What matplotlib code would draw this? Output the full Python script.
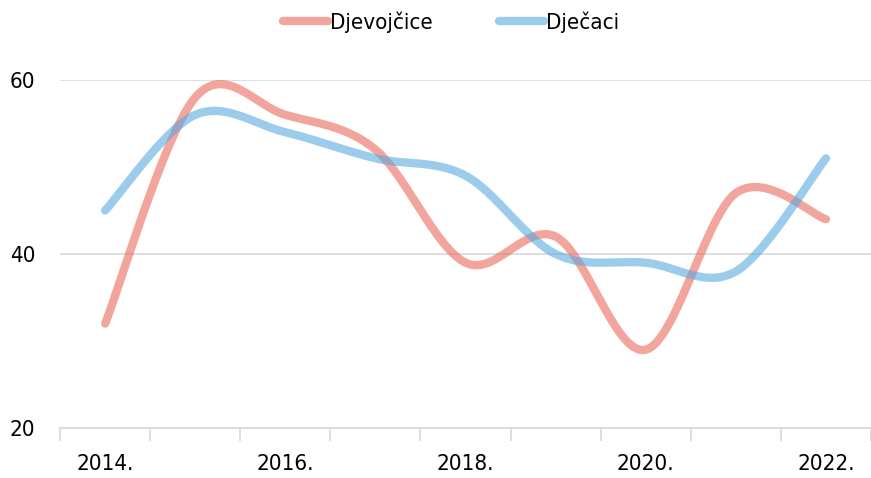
import numpy as np
import matplotlib
matplotlib.use("Agg")
import matplotlib.pyplot as plt

plt.rcParams['font.family'] = ['DejaVu Sans']
plt.rcParams['font.stretch'] = 'condensed'

godine = ['2014.', '2015.', '2016.', '2017.', '2018.', '2019.', '2020.', '2021.', '2022.']
djevojcice = [32, 58, 56, 52, 39, 42, 29, 47, 44]
djecaci = [45, 56, 54, 51, 49, 40, 39, 38, 51]


def smooth(xs, ys, n=30):
    # catmull-rom, like excel "smoothed line"
    xs = np.asarray(xs, float)
    ys = np.asarray(ys, float)
    px = np.concatenate([[xs[0]], xs, [xs[-1]]])
    py = np.concatenate([[ys[0]], ys, [ys[-1]]])
    ox, oy = [], []
    t = np.linspace(0, 1, n)
    for i in range(1, len(px) - 2):
        p0, p1, p2, p3 = (np.array([px[j], py[j]]) for j in (i - 1, i, i + 1, i + 2))
        c1 = p1 + (p2 - p0) / 6
        c2 = p2 - (p3 - p1) / 6
        b = ((1 - t) ** 3)[:, None] * p1 + (3 * (1 - t) ** 2 * t)[:, None] * c1 \
            + (3 * (1 - t) * t ** 2)[:, None] * c2 + (t ** 3)[:, None] * p2
        ox.extend(b[:, 0])
        oy.extend(b[:, 1])
    return ox, oy


fig = plt.figure(figsize=(8.71, 4.78), dpi=100)
ax = fig.add_axes([0.069, 0.1046, 0.931, 0.728])

x = np.arange(len(godine))
sx, sy = smooth(x, djevojcice)
ax.plot(sx, sy, color='#e86a5a', alpha=0.6, lw=6, solid_capstyle='round', label='Djevojčice')
sx, sy = smooth(x, djecaci)
ax.plot(sx, sy, color='#5baade', alpha=0.6, lw=6, solid_capstyle='round', label='Dječaci')

ax.set_xlim(-0.5, len(godine) - 0.5)
ax.set_ylim(20, 60)
ax.set_yticks([20, 40, 60])
ax.yaxis.grid(True, color='#d9d9d9', lw=1.2)
ax.set_axisbelow(True)

ax.set_xticks(x[::2])
ax.set_xticklabels(godine[::2])
ax.set_xticks(np.arange(-0.5, len(godine), 1), minor=True)
ax.tick_params(axis='x', which='major', length=0, pad=19, labelsize=16)
ax.tick_params(axis='x', which='minor', length=9, color='#d9d9d9', width=1.2)
ax.tick_params(axis='y', length=0, pad=18, labelsize=16)

for s in ['top', 'right', 'left']:
    ax.spines[s].set_visible(False)
ax.spines['bottom'].set_color('#d9d9d9')
ax.spines['bottom'].set_linewidth(1.2)

fig.legend(*ax.get_legend_handles_labels(), loc='center', bbox_to_anchor=(0.518, 0.954),
           ncol=2, frameon=False, fontsize=16, handlelength=2.0, handletextpad=0.1,
           columnspacing=3.0)

fig.savefig('out.png', dpi=100)
